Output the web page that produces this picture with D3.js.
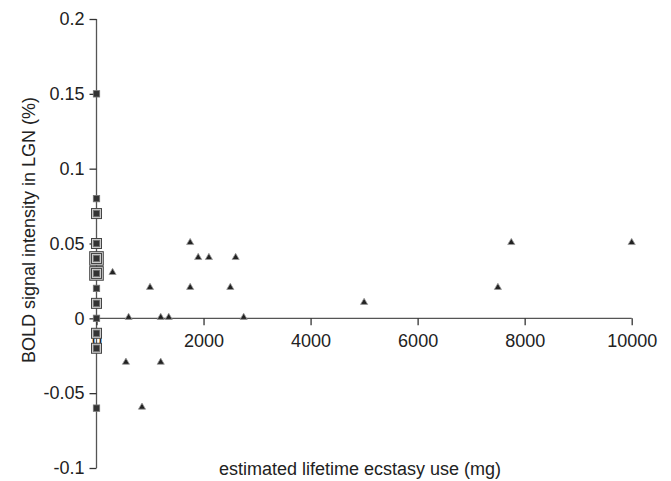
<!DOCTYPE html>
<html><head><meta charset="utf-8">
<script src="https://cdn.jsdelivr.net/npm/d3@7"></script>
<style>body{margin:0;background:#fff}svg{display:block}text{font-family:"Liberation Sans",Arial,sans-serif;fill:#222}</style>
</head><body><svg id="c" width="671" height="481"></svg>
<script>
const xTicks = [0, 2000, 4000, 6000, 8000, 10000];
const yTicks = [0.2, 0.15, 0.1, 0.05, 0, -0.05, -0.1];
const yTickLabels = ["0.2", "0.15", "0.1", "0.05", "0", "-0.05", "-0.1"];
// controls (lifetime use 0): value and number of overlapping subjects
const controlValues = [0.15, 0.08, 0.07, 0.05, 0.04, 0.03, 0.02, 0.01, 0, -0.01, -0.02, -0.06];
const controlCounts = [1, 1, 2, 2, 3, 3, 1, 2, 1, 2, 2, 1];
// ecstasy users
const userUse = [300, 1000, 600, 1200, 1350, 550, 1200, 850, 1750, 1900, 2100, 2600, 1750, 2500, 2750, 5000, 7500, 7750, 10000];
const userBold = [0.03, 0.02, 0, 0, 0, -0.03, -0.03, -0.06, 0.05, 0.04, 0.04, 0.04, 0.02, 0.02, 0, 0.01, 0.02, 0.05, 0.05];

const svg = d3.select("#c");
const x = d3.scaleLinear().domain([0, 10000]).range([96.5, 631.7]);
const y = d3.scaleLinear().domain([-0.1, 0.2]).range([468, 19]);

// y axis
const yAx = svg.append("g").attr("transform", `translate(${x(0)},0)`)
  .call(d3.axisLeft(y).tickValues(yTicks).tickFormat((d,i)=>yTickLabels[i]).tickSize(7).tickPadding(5));
// x axis at y=0
const xAx = svg.append("g").attr("transform", `translate(0,${y(0)})`)
  .call(d3.axisBottom(x).tickValues(xTicks).tickFormat(d3.format("d")).tickSize(7).tickPadding(9));
[yAx, xAx].forEach(g => {
  g.select(".domain").attr("stroke", "#555").attr("stroke-width", 1.3);
  g.selectAll(".tick line").attr("stroke", "#333").attr("stroke-width", 1.3);
  g.selectAll(".tick text").attr("font-size", 18).attr("fill", "#222").style("font-family", '"Liberation Sans",Arial,sans-serif');
});
yAx.select(".domain").attr("d", `M0,${y(0.2)}V${y(-0.1)}`);
xAx.select(".domain").attr("d", `M${x(0)},0H${x(10000)}`);

// control squares
controlValues.forEach((v, i) => {
  const cx = x(0), cy = y(v), n = controlCounts[i];
  for (let k = n - 1; k >= 1; k--) {
    const s = 3.2 + 1.8 * k;
    svg.append("rect").attr("x", cx - s).attr("y", cy - s).attr("width", 2*s).attr("height", 2*s)
      .attr("fill", "#d4d4d4").attr("stroke", "#444").attr("stroke-width", 1);
  }
  svg.append("rect").attr("x", cx - 3.2).attr("y", cy - 3.2).attr("width", 6.4).attr("height", 6.4)
    .attr("fill", "#333").attr("stroke", "#777").attr("stroke-width", 0.8);
});

// user triangles
const tri = d3.symbol().type(d3.symbolTriangle).size(22);
svg.append("g").selectAll("path").data(userUse).join("path")
  .attr("d", tri)
  .attr("transform", (d, i) => `translate(${x(d)},${y(userBold[i]) - 1})`)
  .attr("fill", "#222").attr("stroke", "#999").attr("stroke-width", 0.8);

// titles
svg.append("text").attr("transform", `translate(35,230) rotate(-90)`).attr("text-anchor", "middle")
  .attr("font-size", 18).text("BOLD signal intensity in LGN (%)");
svg.append("text").attr("x", 360).attr("y", 475).attr("text-anchor", "middle")
  .attr("font-size", 18).text("estimated lifetime ecstasy use (mg)");
</script></body></html>
